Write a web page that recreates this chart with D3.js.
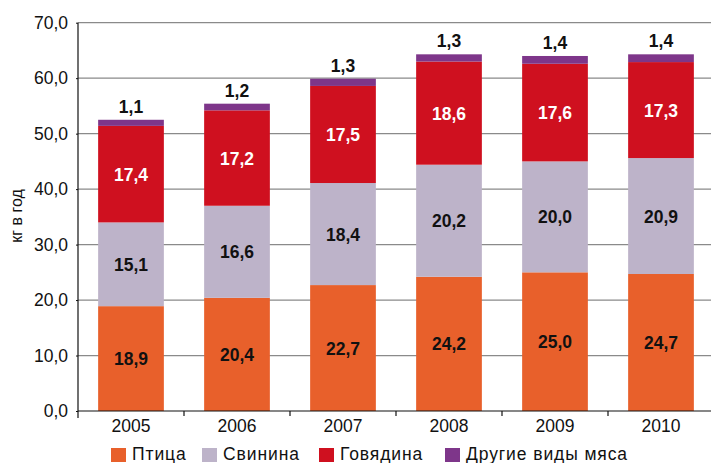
<!DOCTYPE html>
<html><head><meta charset="utf-8">
<script src="https://cdn.jsdelivr.net/npm/d3@7"></script>
<style>body{margin:0;background:#fff}svg{display:block}text{font-family:"Liberation Sans",Arial,sans-serif}</style>
</head><body>
<svg id="c" width="711" height="463"></svg>
<script>
const years = ["2005","2006","2007","2008","2009","2010"];
const poultry = [18.9,20.4,22.7,24.2,25.0,24.7];
const pork = [15.1,16.6,18.4,20.2,20.0,20.9];
const beef = [17.4,17.2,17.5,18.6,17.6,17.3];
const other = [1.1,1.2,1.3,1.3,1.4,1.4];
const seriesNames = ["Птица","Свинина","Говядина","Другие виды мяса"];
const colors = ["#E8602B","#BDB3C9","#CF101F","#7E368A"];
const labelColors = ["#111","#111","#fff","#111"];
const yTicks = [0,10,20,30,40,50,60,70];
const yTitle = "кг в год";

const svg = d3.select("#c");
const x = d3.scaleBand().domain(years).range([78,714]).paddingInner(0.38).paddingOuter(0.19);
const y = d3.scaleLinear().domain([0,70]).range([411,22.7]);
const fmt = v => d3.format(".1f")(v).replace(".", ",");

// gridlines
svg.append("g").selectAll("line").data(yTicks.filter(t=>t>0)).join("line")
  .attr("x1",78).attr("x2",711).attr("y1",d=>y(d)).attr("y2",d=>y(d))
  .attr("stroke","#8a8a8a").attr("stroke-width",1.3);

const data = years.map((yr,i)=>({year:yr, vals:[poultry[i],pork[i],beef[i],other[i]]}));
const stack = d3.stack().keys([0,1,2,3]).value((d,k)=>d.vals[k]);
const stacked = stack(data);

stacked.forEach((layer,k)=>{
  svg.append("g").selectAll("rect").data(layer).join("rect")
    .attr("x",d=>x(d.data.year)).attr("width",x.bandwidth())
    .attr("y",d=>y(d[1])).attr("height",d=>y(d[0])-y(d[1]))
    .attr("fill",colors[k]);
});

// labels
stacked.forEach((layer,k)=>{
  svg.append("g").selectAll("text").data(layer).join("text")
    .attr("x",d=>x(d.data.year)+x.bandwidth()/2)
    .attr("y",d=> k<3 ? (y(d[0])+y(d[1]))/2 + 6.5 : y(d[1]) - 7)
    .attr("text-anchor","middle").attr("font-size",17.5).attr("font-weight",700)
    .attr("fill",labelColors[k])
    .text(d=>fmt(d.data.vals[k]));
});

// axes
const ya = d3.axisLeft(y).tickValues(yTicks).tickFormat(fmt).tickSize(2).tickPadding(8);
const gy = svg.append("g").attr("transform","translate(78,0)").call(ya);
gy.select(".domain").remove();
gy.selectAll("text").attr("font-size",17.5).attr("fill","#111").attr("font-family","Liberation Sans, Arial, sans-serif");
gy.selectAll("line").attr("stroke","#111");
svg.append("line").attr("x1",78).attr("x2",78).attr("y1",22.7).attr("y2",418).attr("stroke","#111").attr("stroke-width",1.2);

const gx = svg.append("g").attr("transform","translate(0,411)").call(d3.axisBottom(x).tickSize(0).tickPadding(9));
gx.select(".domain").remove();
gx.selectAll("text").attr("font-size",17.5).attr("fill","#111").attr("font-family","Liberation Sans, Arial, sans-serif");
svg.append("line").attr("x1",78).attr("x2",711).attr("y1",411).attr("y2",411).attr("stroke","#111").attr("stroke-width",1.2);
svg.append("g").selectAll("line").data(years.slice(1)).join("line")
  .attr("x1",d=>x(d)-x.step()*x.paddingInner()/2).attr("x2",d=>x(d)-x.step()*x.paddingInner()/2)
  .attr("y1",411).attr("y2",416).attr("stroke","#111").attr("stroke-width",1.2);

svg.append("text").attr("transform","translate(22,216) rotate(-90)").attr("text-anchor","middle")
  .attr("font-size",16).attr("fill","#111").text(yTitle);

// legend
const legX = [111,202,319,445];
const lg = svg.append("g");
seriesNames.forEach((n,i)=>{
  lg.append("rect").attr("x",legX[i]).attr("y",448).attr("width",15).attr("height",14).attr("fill",colors[i]);
  lg.append("text").attr("x",legX[i]+21).attr("y",460).attr("font-size",17.5).attr("letter-spacing",0.9).attr("fill","#111").text(n);
});
</script>
</body></html>
